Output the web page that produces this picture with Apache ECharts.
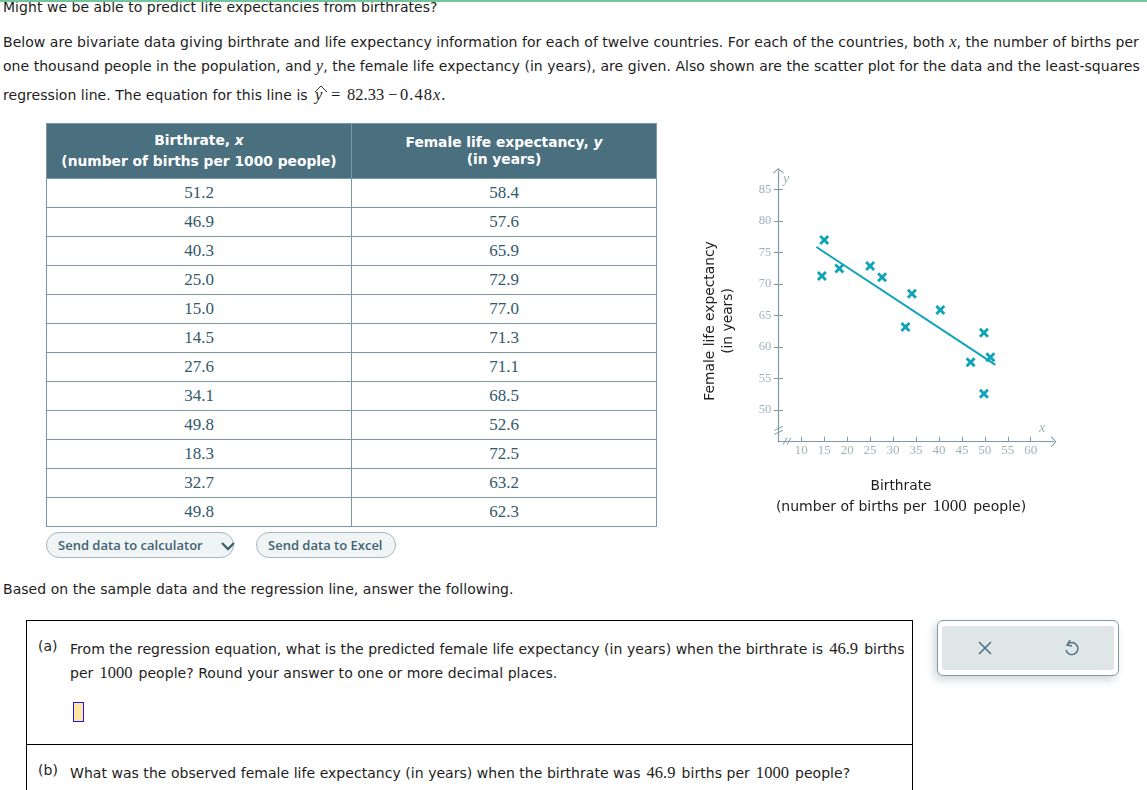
<!DOCTYPE html>
<html>

<head>
    <title>Birthrate and female life expectancy</title>
    <meta charset="utf-8" />
    <script src="https://cdn.jsdelivr.net/npm/echarts@6/dist/echarts.min.js"></script>
    <style type="text/css">
        html,
        body {
            width: 100%;
            height: 100%;
            margin: 0;
            overflow: hidden;
            background: #fff;
        }

        body {
            font-family: "DejaVu Sans", sans-serif;
            font-size: 14px;
            color: #1d1d1d;
        }

        .t {
            position: absolute;
            white-space: nowrap;
            line-height: 20px;
            letter-spacing: 0.04px;
        }

        .m {
            font-family: "Liberation Serif", serif;
            font-size: 16.5px;
        }

        i.m {
            font-style: italic;
        }

        .n {
            margin: 0 1.5px;
        }

        #topbar {
            position: absolute;
            left: 0;
            top: 0;
            width: 100%;
            height: 2px;
            background: #72c59a;
            z-index: 2;
        }

        #data {
            position: absolute;
            left: 46px;
            top: 123px;
            width: 611px;
            border-collapse: collapse;
            table-layout: fixed;
        }

        #data th {
            height: 54px;
            padding: 0;
            background: #4a6f7f;
            border: 1px solid #7b98a4;
            color: #fff;
            font-size: 13.8px;
            line-height: 21px;
        }

        #data th.left {
            padding-bottom: 1px;
            height: 53px;
        }

        #data th span {
            display: block;
            line-height: 17px;
        }

        #data td {
            height: 28px;
            padding: 0;
            border: 1px solid #7b98a4;
            text-align: center;
            font-family: "Liberation Serif", serif;
            font-size: 17px;
            color: #33596a;
        }

        .btn {
            position: absolute;
            top: 532px;
            height: 24px;
            border: 1px solid #a3b8c1;
            border-radius: 13px;
            background: #f0f4f5;
            color: #3f6272;
            font-family: "Open Sans", sans-serif;
            font-size: 13px;
            font-weight: 600;
            line-height: 25px;
            padding-left: 11px;
            white-space: nowrap;
        }

        .box {
            position: absolute;
            left: 26px;
            width: 885px;
            border: 1px solid #000;
        }

        #chart {
            position: absolute;
            left: 670px;
            top: 160px;
            width: 400px;
            height: 360px;
        }

        #tools {
            position: absolute;
            left: 937px;
            top: 620px;
            width: 180px;
            height: 54px;
            border: 1px solid #7f9aa6;
            border-radius: 6px;
            background: #fff;
            box-shadow: -3px 4px 8px rgba(80, 110, 125, 0.28);
        }

        #tools div {
            position: absolute;
            left: 4px;
            top: 5px;
            width: 172px;
            height: 44px;
            background: #dfe6e8;
            border-radius: 3px;
        }
    </style>
</head>

<body>
    <div id="topbar"></div>
    <div class="t" style="left:3px;top:-3px">Might we be able to predict life expectancies from birthrates?</div>
    <div class="t" style="left:3px;top:32px">Below are bivariate data giving birthrate and life expectancy information for each of twelve countries. For each of the countries, both <i class="m">x</i>, the number of births per</div>
    <div class="t" style="left:3px;top:56px">one thousand people in the population, and <i class="m">y</i>, the female life expectancy (in years), are given. Also shown are the scatter plot for the data and the least-squares</div>
    <div class="t" style="left:3px;top:85px">regression line. The equation for this line is</div>
    <div class="t m" style="left:315px;top:85px"><i>y</i></div>
    <div class="t m" style="left:331px;top:85px">=</div>
    <div class="t m" style="left:347px;top:85px">82.33</div>
    <div class="t m" style="left:388px;top:85px">&#8722;</div>
    <div class="t m" style="left:400px;top:85px;letter-spacing:1px">0.48<i>x</i>.</div>
    <svg style="position:absolute;left:314px;top:85px" width="14" height="9">
        <path d="M1 7 L7 1 L13 7" fill="none" stroke="#333" stroke-width="1" />
    </svg>

    <table id="data">
        <colgroup>
            <col style="width:305px" />
            <col style="width:305px" />
        </colgroup>
        <thead>
            <tr>
                <th class="left">Birthrate, <i>x</i><br />(number of births per 1000 people)</th>
                <th><span>Female life expectancy, <i>y</i></span><span>(in years)</span></th>
            </tr>
        </thead>
        <tbody id="rows"></tbody>
    </table>

    <div class="btn" style="left:46px;width:175px">Send data to calculator
        <svg style="position:absolute;left:174px;top:9px" width="14" height="9">
            <path d="M1 1 L7 7 L13 1" fill="none" stroke="#3f6272" stroke-width="2.4" />
        </svg>
    </div>
    <div class="btn" style="left:256px;width:127px">Send data to Excel</div>

    <div class="t" style="left:3px;top:579px">Based on the sample data and the regression line, answer the following.</div>

    <div class="box" style="top:620px;height:123px"></div>
    <div class="box" style="top:744px;height:60px"></div>
    <div class="t" style="left:38px;top:636px">(a)</div>
    <div class="t" style="left:70px;top:639px">From the regression equation, what is the predicted female life expectancy (in years) when the birthrate is <span class="m n">46.9</span> births</div>
    <div class="t" style="left:70px;top:663px">per <span class="m n">1000</span> people? Round your answer to one or more decimal places.</div>
    <div style="position:absolute;left:73px;top:702px;width:9px;height:18px;background:#ffe6a8;border:1px solid #1a1ae0"></div>
    <div class="t" style="left:38px;top:760px">(b)</div>
    <div class="t" style="left:70px;top:763px">What was the observed female life expectancy (in years) when the birthrate was <span class="m n">46.9</span> births per <span class="m n">1000</span> people?</div>

    <div id="tools">
        <div></div>
        <svg style="position:absolute;left:40px;top:20px" width="14" height="14">
            <path d="M1 1 L13 13 M13 1 L1 13" fill="none" stroke="#4a6f7f" stroke-width="1.5" />
        </svg>
        <svg style="position:absolute;left:125px;top:18px" width="16" height="18">
            <path d="M4 6 A6 6 0 1 1 3 11 M7 1 L4 6 L9 7" fill="none" stroke="#4a6f7f" stroke-width="1.4" />
        </svg>
    </div>

    <div id="chart"></div>

    <script>
        var birthrate = [51.2, 46.9, 40.3, 25.0, 15.0, 14.5, 27.6, 34.1, 49.8, 18.3, 32.7, 49.8];
        var lifeExpectancy = [58.4, 57.6, 65.9, 72.9, 77.0, 71.3, 71.1, 68.5, 52.6, 72.5, 63.2, 62.3];
        var regressionX = [13.3, 52.3];
        var regressionY = [75.9, 57.2];
        var xTicks = [10, 15, 20, 25, 30, 35, 40, 45, 50, 55, 60];
        var yTicks = [50, 55, 60, 65, 70, 75, 80, 85];

        var axisColor = '#7f9aa6';
        var labelColor = '#9fb3bb';
        var markColor = '#0fa3b8';
        var sansFont = '"DejaVu Sans", sans-serif';
        var serifFont = '"Liberation Serif", serif';

        // table rows
        var rows = '';
        birthrate.forEach(function (b, i) {
            rows += '<tr><td>' + b.toFixed(1) + '</td><td>' + lifeExpectancy[i].toFixed(1) + '</td></tr>';
        });
        document.getElementById('rows').innerHTML = rows;

        var points = birthrate.map(function (b, i) {
            return [b, lifeExpectancy[i]];
        });
        var linePoints = regressionX.map(function (x, i) {
            return [x, regressionY[i]];
        });

        var crossPath = 'path://M2 0 L5 3 L8 0 L10 2 L7 5 L10 8 L8 10 L5 7 L2 10 L0 8 L3 5 L0 2 Z';
        var arrowPath = 'path://M0 9 L10 0 L20 9 L18.6 10 L10 2.6 L1.4 10 Z';

        var chart = echarts.init(document.getElementById('chart'), null, { renderer: 'canvas' });
        chart.setOption({
            animation: false,
            grid: { left: 108.3, top: 10.8, width: 275.4, height: 270.9 },
            xAxis: {
                type: 'value',
                min: 5,
                max: 65,
                splitLine: { show: false },
                axisLine: {
                    onZero: false,
                    symbol: ['none', arrowPath],
                    symbolSize: [11, 8],
                    lineStyle: { color: axisColor, width: 1.2 }
                },
                axisTick: { show: true, inside: true, length: 5, customValues: xTicks, lineStyle: { color: axisColor, width: 1 } },
                axisLabel: { margin: 2, customValues: xTicks, color: labelColor, fontFamily: serifFont, fontSize: 13 }
            },
            yAxis: [{
                type: 'value',
                min: 45,
                max: 88,
                splitLine: { show: false },
                axisLine: {
                    onZero: false,
                    symbol: ['none', arrowPath],
                    symbolSize: [11, 8],
                    lineStyle: { color: axisColor, width: 1.2 }
                },
                axisTick: { show: true, length: 4.5, customValues: yTicks, lineStyle: { color: axisColor, width: 1 } },
                axisLabel: { margin: 7, padding: [0, 0, 5, 0], customValues: yTicks, color: labelColor, fontFamily: serifFont, fontSize: 12.5 }
            }, {
                // same scale, only adds the right half of the ticks
                type: 'value',
                position: 'left',
                min: 45,
                max: 88,
                splitLine: { show: false },
                axisLine: { show: false, onZero: false },
                axisTick: { show: true, inside: true, length: 4.5, customValues: yTicks, lineStyle: { color: axisColor, width: 1 } },
                axisLabel: { show: false }
            }],
            series: [{
                type: 'line',
                data: linePoints,
                showSymbol: false,
                silent: true,
                lineStyle: { color: markColor, width: 2 }
            }, {
                type: 'scatter',
                data: points,
                symbol: crossPath,
                symbolSize: 10,
                itemStyle: { color: markColor, opacity: 1 }
            }]
        });

        // axis breaks sit next to the axes, placed from the scale
        var yBreak = chart.convertToPixel({ xAxisIndex: 0 }, 5);
        var yBreakY = chart.convertToPixel({ yAxisIndex: 0 }, 46.8);
        var xBreakX = chart.convertToPixel({ xAxisIndex: 0 }, 6.9);
        var xBreakY = chart.convertToPixel({ yAxisIndex: 0 }, 45);

        function slash(x1, y1, x2, y2) {
            return {
                type: 'line',
                shape: { x1: x1, y1: y1, x2: x2, y2: y2 },
                style: { stroke: axisColor, lineWidth: 1 }
            };
        }

        function label(text, x, y, style) {
            return {
                type: 'text',
                x: x,
                y: y,
                style: Object.assign({ text: text, align: 'center', verticalAlign: 'middle' }, style)
            };
        }

        var titleStyle = { fontFamily: sansFont, fontSize: 13.8, fill: '#1d1d1d' };

        chart.setOption({
            graphic: [
                slash(yBreak - 4, yBreakY, yBreak + 4.5, yBreakY - 4),
                slash(yBreak - 4, yBreakY + 4, yBreak + 4.5, yBreakY),
                slash(xBreakX - 4, xBreakY + 3, xBreakX, xBreakY - 4),
                slash(xBreakX, xBreakY + 3, xBreakX + 4, xBreakY - 4),
                label('y', 116, 19, { fontFamily: serifFont, fontStyle: 'italic', fontSize: 14, fill: labelColor }),
                label('x', 372, 268, { fontFamily: serifFont, fontStyle: 'italic', fontSize: 14, fill: labelColor }),
                label('Birthrate', 231, 326, titleStyle),
                {
                    type: 'text',
                    x: 231,
                    y: 347,
                    style: {
                        text: '(number of births per {n|1000} people)',
                        align: 'center',
                        verticalAlign: 'middle',
                        fontFamily: sansFont,
                        fontSize: 14,
                        fill: '#1d1d1d',
                        rich: {
                            n: { fontFamily: serifFont, fontSize: 17, fill: '#1d1d1d', padding: [0, 2, 0, 2] }
                        }
                    }
                },
                {
                    type: 'text',
                    x: 40,
                    y: 161,
                    rotation: Math.PI / 2,
                    style: Object.assign({ text: 'Female life expectancy', align: 'center', verticalAlign: 'middle' }, titleStyle)
                },
                {
                    type: 'text',
                    x: 58,
                    y: 161,
                    rotation: Math.PI / 2,
                    style: Object.assign({ text: '(in years)', align: 'center', verticalAlign: 'middle' }, titleStyle)
                }
            ]
        });
    </script>
</body>

</html>
